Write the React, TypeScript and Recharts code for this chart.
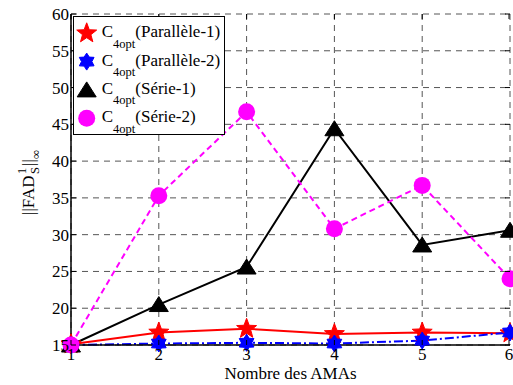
import React from 'react';
import { LineChart, Line, XAxis, YAxis, CartesianGrid, Legend } from 'recharts';

// Nombre des AMAs vs ||FAD||
const amas = [1, 2, 3, 4, 5, 6];
const parallele1 = [15.1, 16.7, 17.2, 16.5, 16.7, 16.6];
const parallele2 = [15.0, 15.2, 15.3, 15.2, 15.6, 16.7];
const serie1 = [15.0, 20.5, 25.6, 44.4, 28.6, 30.6];
const serie2 = [15.0, 35.3, 46.7, 30.8, 36.7, 24.0];
const yTicks = [15, 20, 25, 30, 35, 40, 45, 50, 55, 60];
const seriesNames = ['Parallèle-1', 'Parallèle-2', 'Série-1', 'Série-2'];

const data = amas.map((n, i) => ({
  n,
  p1: parallele1[i],
  p2: parallele2[i],
  s1: serie1[i],
  s2: serie2[i],
}));

const FONT = '"Liberation Serif", "Times New Roman", serif';
const PLOT_TOP = 14;
const PLOT_BOTTOM = 345;
const PLOT_LEFT = 71;
const PLOT_RIGHT = 510;

const starPoints = (cx: number, cy: number, spikes: number, outer: number, inner: number) => {
  const pts: string[] = [];
  for (let i = 0; i < spikes * 2; i++) {
    const r = i % 2 === 0 ? outer : inner;
    const a = -Math.PI / 2 + (i * Math.PI) / spikes;
    pts.push(`${cx + r * Math.cos(a)},${cy + r * Math.sin(a)}`);
  }
  return pts.join(' ');
};

const Marker = ({ kind, cx, cy }: { kind: string; cx: number; cy: number }) => {
  if (kind === 'pentagram') {
    return <polygon points={starPoints(cx, cy, 5, 10.5, 4.4)} fill="#ff0000" stroke="#ff0000" strokeWidth={1} />;
  }
  if (kind === 'hexagram') {
    return <polygon points={starPoints(cx, cy, 6, 8.5, 5.2)} fill="#0000ff" stroke="#0000ff" strokeWidth={1} />;
  }
  if (kind === 'triangle') {
    return <polygon points={`${cx},${cy - 8} ${cx + 9.5},${cy + 7} ${cx - 9.5},${cy + 7}`} fill="#000" stroke="#000" />;
  }
  return <circle cx={cx} cy={cy} r={8.5} fill="#ff00ff" />;
};

const makeDot = (kind: string) => (props: any) => (
  <Marker key={`${kind}-${props.index}`} kind={kind} cx={props.cx} cy={props.cy} />
);

const YTick = ({ y, payload }: any) => (
  <g>
    <line x1={PLOT_LEFT} x2={PLOT_LEFT + 5} y1={y} y2={y} stroke="#000" />
    <line x1={PLOT_RIGHT - 5} x2={PLOT_RIGHT} y1={y} y2={y} stroke="#000" />
    <text x={PLOT_LEFT - 2} y={y + 6} textAnchor="end" fontSize={17} fontFamily={FONT} fill="#000">
      {payload.value}
    </text>
  </g>
);

const XTick = ({ x, payload }: any) => (
  <g>
    <line x1={x} x2={x} y1={PLOT_BOTTOM} y2={PLOT_BOTTOM - 5} stroke="#000" />
    <line x1={x} x2={x} y1={PLOT_TOP} y2={PLOT_TOP + 5} stroke="#000" />
    <text x={x} y={PLOT_BOTTOM + 15} textAnchor="middle" fontSize={17} fontFamily={FONT} fill="#000">
      {payload.value}
    </text>
  </g>
);

const XLabel = () => (
  <text x={(PLOT_LEFT + PLOT_RIGHT) / 2} y={379} textAnchor="middle" fontSize={17} fontFamily={FONT} fill="#000">
    Nombre des AMAs
  </text>
);

const YLabel = () => (
  <g transform="translate(34, 215) rotate(-90)" fontFamily={FONT} fill="#000">
    <text x={0} y={0} fontSize={17}>||FAD</text>
    <text x={41} y={-8} fontSize={12.5}>1</text>
    <text x={41} y={5} fontSize={12.5}>S</text>
    <text x={49} y={0} fontSize={17}>||</text>
    <text x={56} y={6} fontSize={12.5}>∞</text>
  </g>
);

const legendKinds = ['pentagram', 'hexagram', 'triangle', 'circle'];

const LegendBox = () => (
  <div style={{ width: 152, height: 119, border: '1px solid #000', background: '#fff', boxSizing: 'border-box' }}>
    <svg width={150} height={117} style={{ display: 'block', overflow: 'visible' }}>
      {seriesNames.map((name, i) => {
        const cy = 16.3 + i * 28.3;
        return (
          <g key={name}>
            <Marker kind={legendKinds[i]} cx={12.7} cy={cy} />
            <text x={27.7} y={cy + 4} fontSize={17} fontFamily={FONT} fill="#000">
              <tspan>C</tspan>
              <tspan fontSize={12.5} dy={10.5}>4opt</tspan>
              <tspan dy={-10.5}>({name})</tspan>
            </text>
          </g>
        );
      })}
    </svg>
  </div>
);

export default function App() {
  return (
    <div style={{ position: 'absolute', left: 0, top: 0, background: '#fff' }}>
      <LineChart width={513} height={385} data={data} margin={{ top: PLOT_TOP, right: 513 - PLOT_RIGHT, bottom: 0, left: 0 }}>
        <CartesianGrid strokeDasharray="6 5" stroke="#555" />
        <XAxis
          dataKey="n"
          type="number"
          domain={[1, 6]}
          ticks={amas}
          height={385 - PLOT_BOTTOM}
          axisLine={{ stroke: '#000', strokeWidth: 1.5 }}
          tickLine={false}
          tickSize={0}
          tickMargin={0}
          tick={<XTick />}
          label={<XLabel />}
        />
        <XAxis xAxisId="top" orientation="top" type="number" domain={[1, 6]} height={0} tick={false} tickLine={false} axisLine={{ stroke: '#000', strokeWidth: 1.5 }} />
        <YAxis
          type="number"
          domain={[15, 60]}
          ticks={yTicks}
          width={PLOT_LEFT}
          axisLine={{ stroke: '#000', strokeWidth: 1.5 }}
          tickLine={false}
          tickSize={0}
          tickMargin={0}
          tick={<YTick />}
          label={<YLabel />}
        />
        <YAxis yAxisId="right" orientation="right" type="number" domain={[15, 60]} width={0} tick={false} tickLine={false} axisLine={{ stroke: '#000', strokeWidth: 1.5 }} />
        <Legend
          layout="horizontal"
          align="center"
          verticalAlign="middle"
          content={<LegendBox />}
          wrapperStyle={{ left: 73, top: 16, width: 152, height: 119 }}
        />
        <Line dataKey="p1" stroke="#ff0000" strokeWidth={2} dot={makeDot('pentagram')} activeDot={false} isAnimationActive={false} />
        <Line dataKey="p2" stroke="#0000ff" strokeWidth={2} strokeDasharray="9 3 2 3" dot={makeDot('hexagram')} activeDot={false} isAnimationActive={false} />
        <Line dataKey="s1" stroke="#000000" strokeWidth={2} dot={makeDot('triangle')} activeDot={false} isAnimationActive={false} />
        <Line dataKey="s2" stroke="#ff00ff" strokeWidth={2} strokeDasharray="6 4" dot={makeDot('circle')} activeDot={false} isAnimationActive={false} />
      </LineChart>
    </div>
  );
}
